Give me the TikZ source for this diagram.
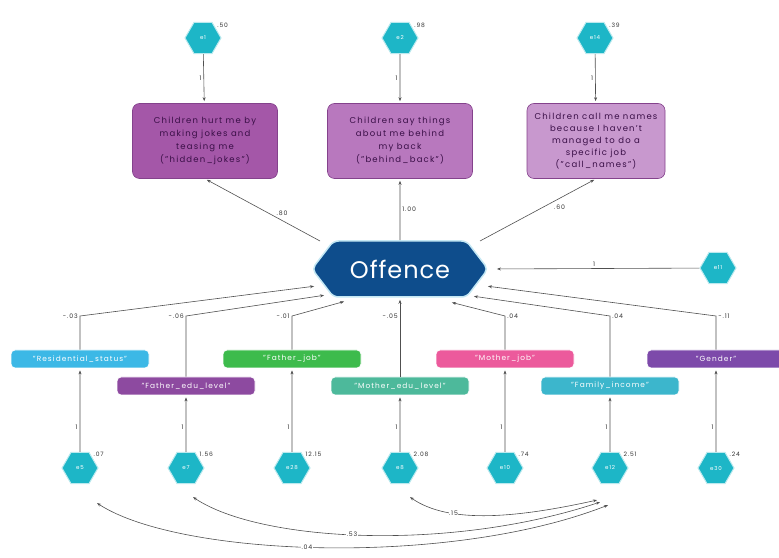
\documentclass[tikz,border=0pt]{standalone}
\usepackage{fontspec}
\setmainfont{Poppins}[LetterSpace=14]
\newfontfamily\offfont{Poppins}[LetterSpace=4]
\usetikzlibrary{arrows.meta,calc,positioning,shapes.geometric,shapes.symbols}

\definecolor{hexcyan}{HTML}{1DB6C7}
\definecolor{offblue}{HTML}{0E4D8C}
\definecolor{offglow}{HTML}{C4E8F4}
\definecolor{linegray}{HTML}{505050}
\definecolor{txtgray}{HTML}{333333}
\definecolor{itemA}{HTML}{A457A8}
\definecolor{itemB}{HTML}{B878BE}
\definecolor{itemC}{HTML}{C898CE}
\definecolor{itemline}{HTML}{84428C}
\definecolor{itemtext}{HTML}{3A0F47}
\definecolor{resblue}{HTML}{3CB8E6}
\definecolor{faedu}{HTML}{8D4AA0}
\definecolor{fajob}{HTML}{3DBB4C}
\definecolor{moedu}{HTML}{4DB99B}
\definecolor{mojob}{HTML}{EC5A9C}
\definecolor{faminc}{HTML}{3CB6CC}
\definecolor{gendr}{HTML}{7D4AAA}

\begin{document}
\begin{tikzpicture}[x=1pt,y=1pt,>={Stealth[length=4pt,width=3pt]},
    errhex/.style={regular polygon,regular polygon sides=6,minimum size=36pt,
      inner sep=0pt,fill=hexcyan,draw=hexcyan!30,line width=1pt,text=white,
      font=\fontsize{5.5}{6}\selectfont},
    varlab/.style={font=\fontsize{6}{7}\selectfont,text=txtgray,inner sep=1pt},
    itembox/.style={rectangle,rounded corners=7pt,minimum width=145pt,
      minimum height=75pt,inner sep=2pt,draw=itemline,line width=0.6pt,
      text=itemtext,align=center,font=\fontsize{8.5}{13}\selectfont},
    varbox/.style={rectangle,rounded corners=4pt,minimum width=138pt,
      minimum height=18pt,inner sep=1pt,text=white,draw=white,line width=0.8pt,
      font=\fontsize{7.4}{8}\selectfont},
    conn/.style={->,draw=linegray,line width=0.6pt,shorten >=2pt},
    cov/.style={<->,draw=linegray,line width=0.6pt},
    coef/.style={font=\fontsize{6.2}{7}\selectfont,text=txtgray,inner sep=2pt},
  ]
  \useasboundingbox (0,0) rectangle (779,557);

  % latent factor
  \node[signal,signal to=west and east,signal pointer angle=105,
    minimum width=176pt,minimum height=56pt,fill=offblue,draw=offglow,
    line width=1.5pt,rounded corners=5pt,text=white,
    font=\offfont\fontsize{24}{26}\selectfont] (off) at (400,288) {Offence};
  \node[errhex] (e11) at (718,289) {e11};

  % indicators
  \node[itembox,fill=itemA] (b1) at (205,416)
    {Children hurt me by\\ making jokes and\\ teasing me\\ ("hidden\_jokes")};
  \node[itembox,fill=itemB] (b2) at (400,416)
    {Children say things\\ about me behind\\ my back\\ ("behind\_back")};
  \node[itembox,fill=itemC,minimum width=138pt,font=\fontsize{8.5}{12}\selectfont] (b3) at (596,416)
    {Children call me names\\ because I haven't\\ managed to do a\\ specific job\\ ("call\_names")};
  \node[errhex,label={[varlab]35:.50}] (e1) at (203,519) {e1};
  \node[errhex,label={[varlab]35:.98}] (e2) at (400,519) {e2};
  \node[errhex,label={[varlab]35:.39}] (e14) at (595,519) {e14};

  \draw[conn] (e1) -- node[coef,left]{1} (b1);
  \draw[conn] (e2) -- node[coef,left]{1} (b2);
  \draw[conn] (e14) -- node[coef,left]{1} (b3);
  \draw[conn] ($(off.center)+(-80,28)$) -- node[coef,pos=0.33,above=3pt]{.80} (b1.south);
  \draw[conn] (off) -- node[coef,right]{1.00} (b2);
  \draw[conn] ($(off.center)+(80,28)$) -- node[coef,pos=0.62,below right=0pt]{.60} (b3.south);
  \draw[conn,shorten >=8pt] (e11) -- node[coef,above]{1} (off.east);

  % covariates
  \node[varbox,fill=resblue] (rs) at (80,198) {"Residential\_status"};
  \node[varbox,fill=faedu] (fe) at (186,171) {"Father\_edu\_level"};
  \node[varbox,fill=fajob] (fj) at (292,198) {"Father\_job"};
  \node[varbox,fill=moedu] (me) at (400,171) {"Mother\_edu\_level"};
  \node[varbox,fill=mojob] (mj) at (505,198) {"Mother\_job"};
  \node[varbox,fill=faminc] (fi) at (610,171) {"Family\_income"};
  \node[varbox,fill=gendr] (gd) at (716,198) {"Gender"};

  \coordinate (cy) at (0,241);
  \draw[conn] (rs) -- (rs |- cy) node[coef,left]{-.03} -- ($(off.center)+(-84,-17)$);
  \draw[conn] (fe) -- (fe |- cy) node[coef,left]{-.06} -- ($(off.center)+(-74,-26)$);
  \draw[conn] (fj) -- (fj |- cy) node[coef,left]{-.01} -- ($(off.center)+(-54,-32)$);
  \draw[conn] (me) -- node[coef,left,pos=0.76]{-.05} (off);
  \draw[conn] (mj) -- (mj |- cy) node[coef,right]{.04} -- ($(off.center)+(50,-33)$);
  \draw[conn] (fi) -- (fi |- cy) node[coef,right]{.04} -- ($(off.center)+(72,-27)$);
  \draw[conn] (gd) -- (gd |- cy) node[coef,right]{-.11} -- ($(off.center)+(86,-17)$);

  % error terms of the covariates
  \node[errhex,label={[varlab]40:.07}] (e5) at (80,89) {e5};
  \node[errhex,label={[varlab]40:1.56}] (e7) at (186,89) {e7};
  \node[errhex,label={[varlab]40:12.15}] (e28) at (292,89) {e28};
  \node[errhex,label={[varlab]40:2.08}] (e8) at (400,89) {e8};
  \node[errhex,label={[varlab]40:.74}] (e10) at (505,89) {e10};
  \node[errhex,label={[varlab]40:2.51}] (e12) at (610,89) {e12};
  \node[errhex,label={[varlab]40:.24}] (e30) at (716,89) {e30};

  \draw[conn] (e5) -- node[coef,left,pos=0.3]{1} (rs);
  \draw[conn] (e7) -- node[coef,left,pos=0.43]{1} (fe);
  \draw[conn] (e28) -- node[coef,left,pos=0.3]{1} (fj);
  \draw[conn] (e8) -- node[coef,left,pos=0.43]{1} (me);
  \draw[conn] (e10) -- node[coef,left,pos=0.3]{1} (mj);
  \draw[conn] (e12) -- node[coef,left,pos=0.43]{1} (fi);
  \draw[conn] (e30) -- node[coef,left,pos=0.3]{1} (gd);

  % covariances
  \draw[cov] ($(e8.south)+(10,-13)$) .. controls (450,32) and (520,40) ..
    node[coef,pos=0.3,fill=white,inner sep=0.5pt]{.15} ($(e12.south)+(-13,-16)$);
  \draw[cov] ($(e7.south)+(7,-13)$) .. controls (260,15) and (450,5) ..
    node[coef,pos=0.47,fill=white,inner sep=0.5pt]{.53} ($(e12.south)+(-10,-18)$);
  \draw[cov] ($(e5.south)+(17,-19)$) .. controls (180,0) and (450,-10) ..
    node[coef,pos=0.47,fill=white,inner sep=0.5pt]{.04} ($(e12.south)+(-2,-21)$);
\end{tikzpicture}
\end{document}
